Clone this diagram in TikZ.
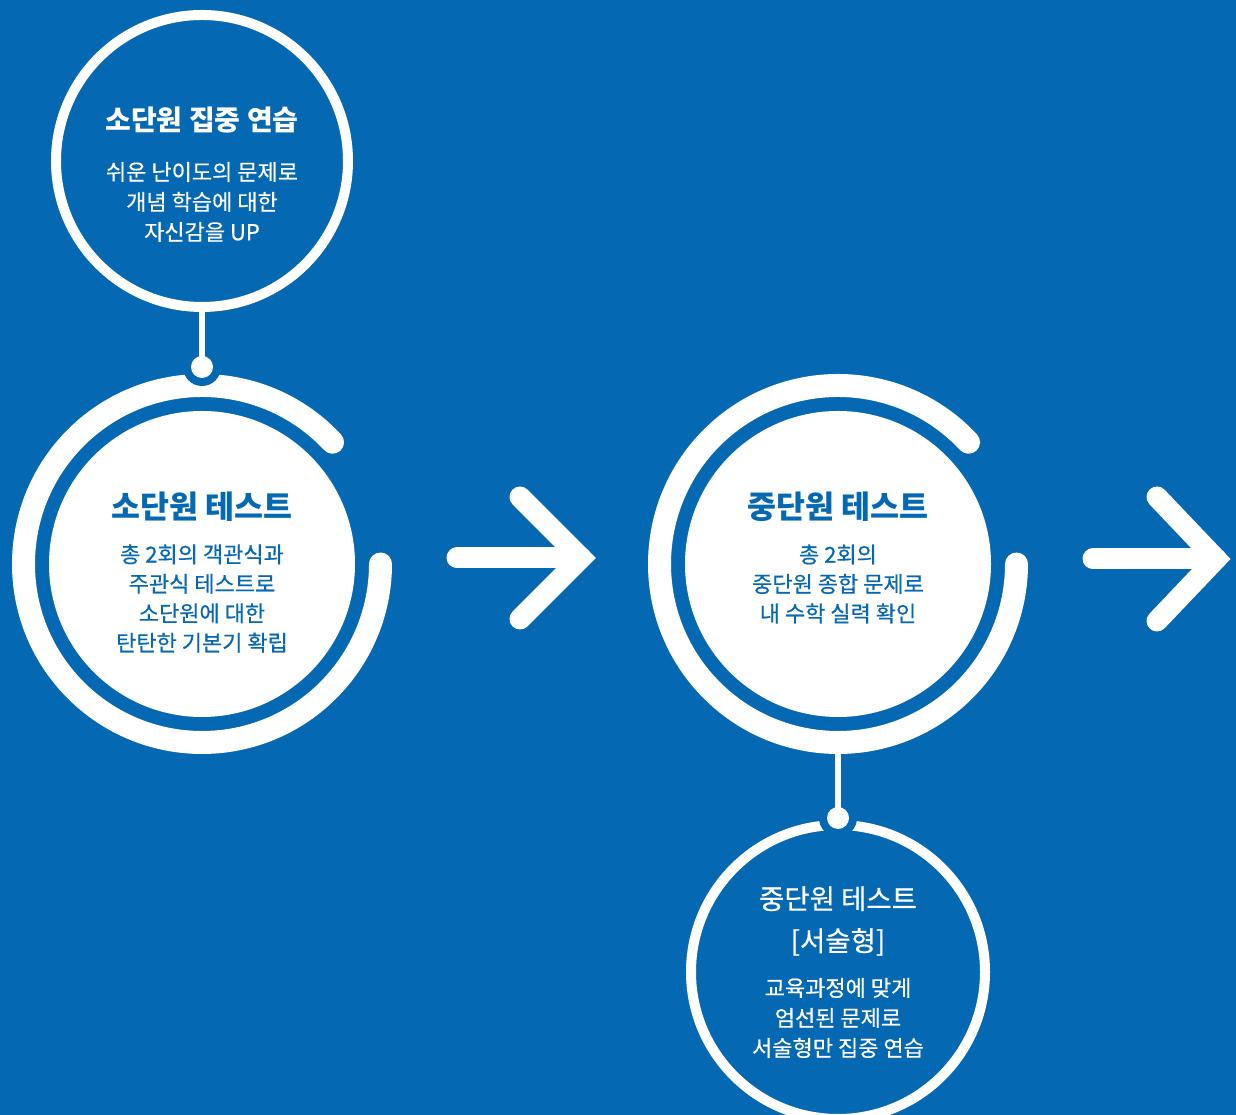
\documentclass[tikz,border=0pt]{standalone}
\usepackage{fontspec}
\newfontfamily\kr{Noto Sans CJK KR}
\newfontfamily\krm[FakeBold=0.5]{Noto Sans CJK KR}
\definecolor{bg}{HTML}{0568B3}
\begin{document}
\begin{tikzpicture}[x=1pt,y=1pt,
  ring/.style={draw=white, line width=23pt, line cap=round},
  thinring/.style={circle, draw=white, line width=10pt, inner sep=0pt},
  disc/.style={circle, fill=white, inner sep=0pt, minimum size=306pt},
  halo/.style={circle, fill=bg, inner sep=0pt, minimum size=38pt},
  dotnode/.style={circle, fill=white, inner sep=0pt, minimum size=22pt},
  link/.style={draw=white, line width=6pt},
  arrowline/.style={draw=white, line width=21pt, line cap=round, line join=miter},
  txt/.style={inner sep=0pt, align=center},
  titleB/.style={txt, text=bg, font=\kr\bfseries\fontsize{31.5}{36}\selectfont},
  titleW/.style={txt, text=white, font=\kr\bfseries\fontsize{28}{32}\selectfont},
  titleR/.style={txt, text=white, font=\krm\fontsize{27.5}{42}\selectfont},
  bodyB/.style={txt, text=bg, font=\krm\fontsize{22}{29.5}\selectfont},
  bodyW/.style={txt, text=white, font=\krm\fontsize{22}{30}\selectfont},
]
\useasboundingbox (0,0) rectangle (1236,1115);
\clip (0,0) rectangle (1236,1115);
\fill[bg] (0,0) rectangle (1236,1115);

% centres
\coordinate (O1) at (202,551);
\coordinate (O2) at (838,551);

% outer open rings
\draw[ring] ([shift={(43:178.5pt)}]O1) arc[start angle=43, end angle=360, radius=178.5pt];
\draw[ring] ([shift={(43:178.5pt)}]O2) arc[start angle=43, end angle=360, radius=178.5pt];

% inner discs
\node[disc] (c1) at (O1) {};
\node[disc] (c2) at (O2) {};

% thin rings
\node[thinring, minimum size=292pt] (top) at (202,954) {};
\node[thinring, minimum size=294pt] (bot) at (838,143) {};

% halos and dots
\node[halo] (h1) at (202,748) {};
\node[halo] (h2) at (838,297) {};
\node[dotnode] (d1) at (h1) {};
\node[dotnode] (d2) at (h2) {};

% links
\draw[link] (top.south) -- (d1.center);
\draw[link] ([yshift=-25pt]c2.south) -- (d2.center);

% arrows
\coordinate (a1s) at (457,557);
\coordinate (a1t) at (581,557);
\coordinate (a1u) at (520,618);
\coordinate (a1l) at (520,496);
\draw[arrowline] (a1s) -- (a1t);
\draw[arrowline] (a1u) -- (a1t) -- (a1l);
\coordinate (a2s) at (1093,556);
\coordinate (a2t) at (1216,556);
\coordinate (a2u) at (1157,618);
\coordinate (a2l) at (1157,494);
\draw[arrowline] (a2s) -- (a2t);
\draw[arrowline] (a2u) -- (a2t) -- (a2l);

% texts
\node[titleW] (tt) at (202,995) {소단원 집중 연습};
\node[bodyW] (tb) at (202,913) {쉬운 난이도의 문제로\\개념 학습에 대한\\자신감을 UP};

\node[titleB] (t1) at (202,608) {소단원 테스트};
\node[bodyB] (b1) at (202,516.5) {총 2회의 객관식과\\주관식 테스트로\\소단원에 대한\\탄탄한 기본기 확립};

\node[titleB] (t2) at (838,608) {중단원 테스트};
\node[bodyB] (b2) at (838,531) {총 2회의\\중단원 종합 문제로\\내 수학 실력 확인};

\node[titleR] (t3) at (838,194) {중단원 테스트\\{[}서술형{]}};
\node[bodyW] (b3) at (838,97) {교육과정에 맞게\\엄선된 문제로\\서술형만 집중 연습};
\end{tikzpicture}
\end{document}
